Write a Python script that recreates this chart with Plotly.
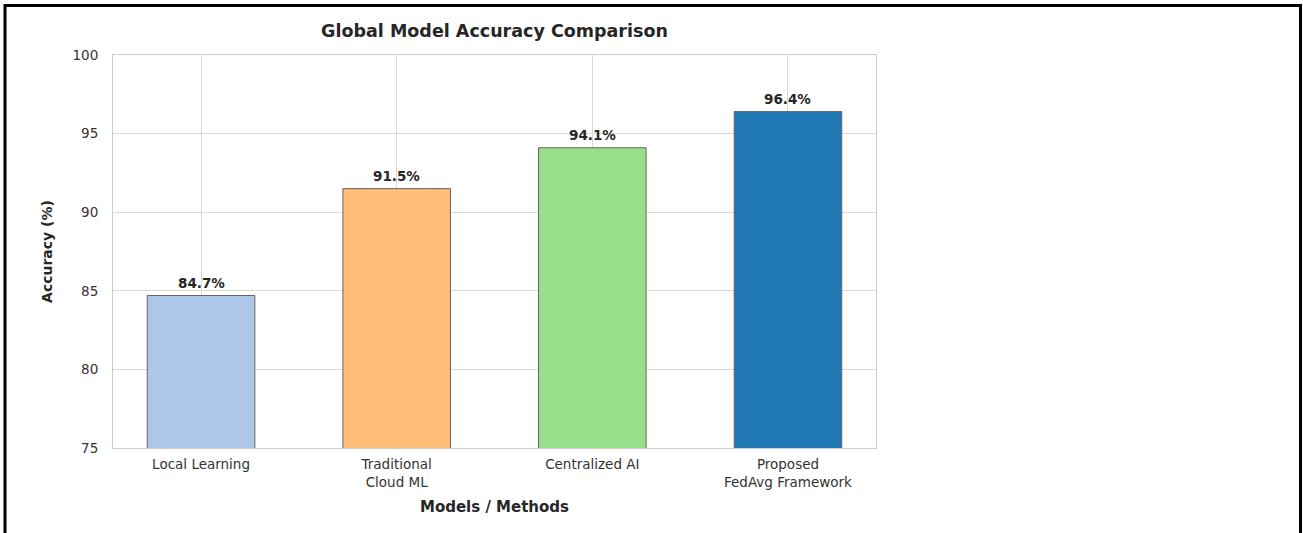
import plotly.graph_objects as go

categories = ["Local Learning", "Traditional<br>Cloud ML", "Centralized AI", "Proposed<br>FedAvg Framework"]
accuracy = [84.7, 91.5, 94.1, 96.4]
bar_colors = ["#aec7e8", "#ffbb78", "#98df8a", "#1f77b4"]
y_ticks = [75, 80, 85, 90, 95, 100]

W, H = 1303, 533
L, R, T, B = 113, 876, 55, 448

FONT = "DejaVu Sans"

fig = go.Figure()
fig.add_trace(go.Bar(
    x=list(range(len(categories))),
    y=accuracy,
    width=0.55,
    marker=dict(color=bar_colors, line=dict(color="#666666", width=1)),
    showlegend=False,
    hoverinfo="skip",
))

for i, v in enumerate(accuracy):
    fig.add_annotation(x=i, y=v, text=f"<b>{v:.1f}%</b>", showarrow=False,
                       yanchor="bottom", yshift=3,
                       font=dict(family=FONT, size=13.5, color="#262626"))

def px_x(p):
    return (p - L) / (R - L)

def px_y(p):
    return (B - p) / (B - T)

# outer black frame
fig.add_shape(type="rect", xref="paper", yref="paper",
              x0=px_x(5), x1=px_x(1300.5), y0=px_y(545), y1=px_y(5.5),
              line=dict(color="black", width=3), layer="above")

fig.update_layout(
    width=W, height=H,
    margin=dict(l=L, r=W - R, t=T, b=H - B, pad=0),
    paper_bgcolor="white", plot_bgcolor="white",
    font=dict(family=FONT, size=13, color="#333333"),
    title=dict(text="<b>Global Model Accuracy Comparison</b>", xref="paper", x=0.5, xanchor="center",
               y=1 - 31 / H, yanchor="middle",
               font=dict(family=FONT, size=17.5, color="#262626")),
    xaxis=dict(
        tickmode="array", tickvals=list(range(len(categories))), ticktext=categories,
        range=[-0.45, 3.45],
        showgrid=True, gridcolor="#d9d9d9", gridwidth=1,
        showline=True, linecolor="#cccccc", linewidth=1, mirror=True,
        ticks="", zeroline=False,
        tickfont=dict(family=FONT, size=13.5, color="#333333"),
        ticklabelstandoff=4,
        title=dict(text="<b>Models / Methods</b>", standoff=12,
                   font=dict(family=FONT, size=15, color="#262626")),
    ),
    yaxis=dict(
        range=[75, 100], tickvals=y_ticks,
        showgrid=True, gridcolor="#d9d9d9", gridwidth=1,
        showline=True, linecolor="#cccccc", linewidth=1, mirror=True,
        ticks="", zeroline=False,
        tickfont=dict(family=FONT, size=13.5, color="#333333"),
        ticklabelstandoff=11,
        title=dict(text="<b>Accuracy (%)</b>", standoff=16,
                   font=dict(family=FONT, size=14, color="#262626")),
    ),
)

fig.write_html("out.html")
